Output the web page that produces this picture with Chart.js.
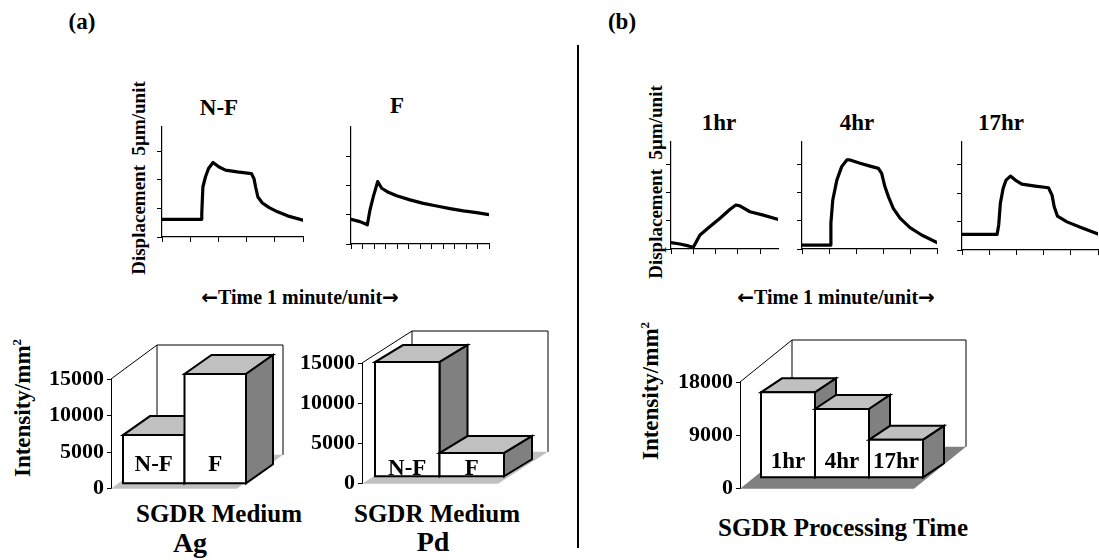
<!DOCTYPE html>
<html>
<head>
<meta charset="utf-8">
<script src="https://cdn.jsdelivr.net/npm/chart.js@4.4.1/dist/chart.umd.min.js"></script>
<style>
  body { margin: 0; width: 1099px; height: 560px; background: #fff; position: relative; overflow: hidden;
         font-family: "Liberation Serif", "Times New Roman", serif; font-weight: bold; color: #000; }
  canvas { position: absolute; }
  .t { position: absolute; white-space: nowrap; transform: translate(-50%, -50%); line-height: 1; }
  .v { transform: translate(-50%, -50%) rotate(-90deg); }
  .arr { font-family: "DejaVu Sans", sans-serif; }
  #divider { position: absolute; left: 577px; top: 45px; width: 1.5px; height: 503px; background: #000; }
</style>
</head>
<body>

<div class="t" style="left:82px; top:21px; font-size:23px;">(a)</div>
<div class="t" style="left:622px; top:21px; font-size:23px;">(b)</div>
<div id="divider"></div>

<div class="t" style="left:219px; top:107px; font-size:23px;">N-F</div>
<div class="t" style="left:397px; top:105px; font-size:23px;">F</div>
<div class="t" style="left:719px; top:122px; font-size:23px;">1hr</div>
<div class="t" style="left:857px; top:122px; font-size:23px;">4hr</div>
<div class="t" style="left:1001px; top:122px; font-size:23px;">17hr</div>

<div class="t v" style="left:138px; top:178px; font-size:19px;">Displacement&nbsp; 5µm/unit</div>
<div class="t v" style="left:655px; top:182px; font-size:19px;">Displacement&nbsp; 5µm/unit</div>

<div class="t" style="left:300px; top:297px; font-size:20px;"><span class="arr">←</span>Time 1 minute/unit<span class="arr">→</span></div>
<div class="t" style="left:836px; top:297px; font-size:20px;"><span class="arr">←</span>Time 1 minute/unit<span class="arr">→</span></div>

<div class="t v" style="left:22px; top:408px; font-size:23px;">Intensity/mm<sup style="font-size:13px;">2</sup></div>
<div class="t v" style="left:650px; top:391px; font-size:23px;">Intensity/mm<sup style="font-size:13px;">2</sup></div>

<div class="t" style="left:219px; top:513px; font-size:25px;">SGDR Medium</div>
<div class="t" style="left:190px; top:543px; font-size:28px;">Ag</div>
<div class="t" style="left:437px; top:513px; font-size:25px;">SGDR Medium</div>
<div class="t" style="left:433px; top:542px; font-size:28px;">Pd</div>
<div class="t" style="left:843px; top:527px; font-size:25px;">SGDR Processing Time</div>

<canvas id="nf"></canvas>
<canvas id="f"></canvas>
<canvas id="h1"></canvas>
<canvas id="h4"></canvas>
<canvas id="h17"></canvas>
<canvas id="ag"></canvas>
<canvas id="pd"></canvas>
<canvas id="time"></canvas>

<script>
// displacement traces: time (minutes) and displacement (5 µm units)
const nfTime = [0, 1.39, 1.41, 1.45, 1.54, 1.65, 1.81, 2.01, 2.25, 2.67, 3.17, 3.26, 3.32, 3.40, 3.56, 3.80, 4.10, 4.45, 5.00];
const nfDisp = [0.62, 0.62, 0.82, 1.75, 2.10, 2.40, 2.61, 2.46, 2.34, 2.28, 2.22, 2.05, 1.75, 1.40, 1.19, 1.03, 0.88, 0.74, 0.59];

const fTime = [0, 0.78, 1.42, 1.65, 1.94, 2.32, 2.67, 3.25, 3.97, 5.13, 6.29, 7.45, 8.61, 9.77, 10.93, 12.0];
const fDisp = [0.85, 0.77, 0.66, 1.17, 1.63, 2.15, 1.92, 1.78, 1.66, 1.52, 1.40, 1.31, 1.22, 1.14, 1.08, 1.01];

const h1Time = [0, 0.4, 0.78, 1.0, 1.3, 1.75, 2.2, 2.65, 2.91, 3.09, 3.54, 4.14, 4.78];
const h1Disp = [0.23, 0.18, 0.11, 0.06, 0.5, 0.8, 1.1, 1.42, 1.57, 1.54, 1.33, 1.21, 1.06];

const h4Time = [0, 1.04, 1.07, 1.14, 1.29, 1.47, 1.66, 1.78, 2.15, 2.52, 2.83, 2.95, 3.07, 3.2, 3.38, 3.63, 4.0, 4.43, 5.0];
const h4Disp = [0.14, 0.14, 0.92, 1.75, 2.46, 2.94, 3.18, 3.18, 3.06, 2.96, 2.88, 2.7, 2.23, 1.87, 1.45, 1.1, 0.76, 0.5, 0.23];

const h17Time = [0, 1.29, 1.35, 1.41, 1.51, 1.62, 1.78, 1.96, 2.2, 2.69, 3.18, 3.31, 3.39, 3.51, 3.86, 4.35, 5.0];
const h17Disp = [0.55, 0.55, 0.88, 1.64, 2.16, 2.46, 2.6, 2.46, 2.32, 2.25, 2.19, 1.93, 1.52, 1.19, 0.99, 0.8, 0.56];

// tick positions for the traces
const dispTicks = [0, 1, 2, 3];
const min5Ticks = [0, 1, 2, 3, 4, 5];
const min4Ticks = [0, 1, 2, 3, 4];
const min12Ticks = [0, 1, 2, 3, 4, 5, 6, 7, 8, 9, 10, 11, 12];

// intensity bars
const agLabels = ['N-F', 'F'];
const agValues = [6650, 15000];
const pdLabels = ['N-F', 'F'];
const pdValues = [14250, 2950];
const timeLabels = ['1hr', '4hr', '17hr'];
const timeValues = [14400, 11600, 6400];
const ticks15k = [0, 5000, 10000, 15000];
const ticks18k = [0, 9000, 18000];

const TL = 5; // tick mark length

function sizeCanvas(cv, left, top, w, h) {
    cv.width = w; cv.height = h;
    cv.style.left = left + 'px'; cv.style.top = top + 'px';
    cv.style.width = w + 'px'; cv.style.height = h + 'px';
}

// box = pixel position of the axes on the page
function trace(id, box, xs, ys, xMax, yMax, xTicks, yTicks) {
    const cv = document.getElementById(id);
    const pad = 8;
    sizeCanvas(cv, box.l - pad, box.t - pad, box.r - box.l + 2 * pad, box.b - box.t + 2 * pad);
    const axis = (max, tickList) => ({
        type: 'linear', min: 0, max: max,
        afterBuildTicks: s => { s.ticks = tickList.map(v => ({ value: v })); },
        grid: { display: true, drawOnChartArea: false, drawTicks: true, tickLength: TL, color: '#000', lineWidth: 1 },
        border: { display: true, color: '#000', width: 1.2 },
        ticks: { display: false }
    });
    new Chart(cv, {
        type: 'line',
        data: {
            datasets: [{
                data: xs.map((x, i) => ({ x: x, y: ys[i] })),
                borderColor: '#000', borderWidth: 3.2, pointRadius: 0, tension: 0,
                borderJoinStyle: 'round', borderCapStyle: 'round'
            }]
        },
        options: {
            responsive: false, animation: false, events: [],
            layout: { padding: { left: pad - TL, top: pad, right: pad, bottom: pad - TL } },
            plugins: { legend: { display: false }, tooltip: { enabled: false } },
            scales: { x: axis(xMax, xTicks), y: axis(yMax, yTicks) }
        }
    });
}

trace('nf', { l: 162, t: 127, r: 303, b: 237 }, nfTime, nfDisp, 5, 3.85, min5Ticks, dispTicks);
trace('f', { l: 351, t: 127, r: 489, b: 244 }, fTime, fDisp, 12, 4.03, min12Ticks, dispTicks);
trace('h1', { l: 671, t: 142, r: 778, b: 249 }, h1Time, h1Disp, 4.8, 3.82, min4Ticks, dispTicks);
trace('h4', { l: 802, t: 142, r: 937, b: 249 }, h4Time, h4Disp, 5, 3.82, min5Ticks, dispTicks);
trace('h17', { l: 962, t: 142, r: 1098, b: 250 }, h17Time, h17Disp, 5, 3.8, min5Ticks, dispTicks);

// pseudo 3-D columns drawn from the bar elements
function poly(ctx, pts, fill) {
    ctx.beginPath();
    ctx.moveTo(pts[0][0], pts[0][1]);
    for (let i = 1; i < pts.length; i++) ctx.lineTo(pts[i][0], pts[i][1]);
    ctx.closePath();
    ctx.fillStyle = fill;
    ctx.fill();
    ctx.stroke();
}

const box3d = {
    id: 'box3d',
    beforeDatasetsDraw(chart, args, o) {
        const { ctx, chartArea: a, scales: { y } } = chart;
        const top = y.getPixelForValue(y.max), bot = y.getPixelForValue(0);
        const L = a.left, R = a.right + o.extra;
        ctx.save();
        ctx.fillStyle = o.floor;
        ctx.beginPath();
        ctx.moveTo(L, bot); ctx.lineTo(R, bot); ctx.lineTo(R + o.dx, bot + o.dy); ctx.lineTo(L + o.dx, bot + o.dy);
        ctx.closePath();
        ctx.fill();
        ctx.strokeStyle = '#000'; ctx.lineWidth = 1;
        ctx.beginPath();
        ctx.moveTo(L, top); ctx.lineTo(L + o.dx, top + o.dy);
        ctx.lineTo(R + o.dx, top + o.dy); ctx.lineTo(R + o.dx, bot + o.dy);
        ctx.moveTo(L + o.dx, top + o.dy); ctx.lineTo(L + o.dx, bot + o.dy);
        ctx.stroke();
        ctx.restore();
    },
    afterDatasetsDraw(chart, args, o) {
        const ctx = chart.ctx;
        const meta = chart.getDatasetMeta(0);
        ctx.save();
        ctx.strokeStyle = '#000'; ctx.lineWidth = 2; ctx.lineJoin = 'miter';
        meta.data.forEach((el, i) => {
            const p = el.getProps(['x', 'y', 'base', 'width'], true);
            const x1 = p.x - p.width / 2 + o.ox, x2 = p.x + p.width / 2 + o.ox;
            const yt = p.y + o.oy, yb = p.base + o.oy;
            poly(ctx, [[x1, yt], [x2, yt], [x2 + o.bx, yt + o.by], [x1 + o.bx, yt + o.by]], '#c0c0c0');
            poly(ctx, [[x2, yt], [x2 + o.bx, yt + o.by], [x2 + o.bx, yb + o.by], [x2, yb]], '#808080');
            poly(ctx, [[x1, yt], [x2, yt], [x2, yb], [x1, yb]], '#ffffff');
            ctx.fillStyle = '#000';
            ctx.font = 'bold 23px "Liberation Serif"';
            ctx.textAlign = 'center';
            ctx.textBaseline = 'alphabetic';
            ctx.fillText(chart.data.labels[i], (x1 + x2) / 2, yb - o.lift);
        });
        ctx.restore();
    }
};

// frame = canvas box, axis = y-axis x, zero/top = pixel rows of 0 and max, right = last bar edge
function columns(id, frame, axis, zero, top, right, labels, values, max, tickList, look) {
    const cv = document.getElementById(id);
    sizeCanvas(cv, frame.l, frame.t, frame.w, frame.h);
    new Chart(cv, {
        type: 'bar',
        data: {
            labels: labels,
            datasets: [{ data: values, backgroundColor: 'rgba(0,0,0,0)', borderWidth: 0,
                         barPercentage: 1, categoryPercentage: 1 }]
        },
        options: {
            responsive: false, animation: false, events: [],
            layout: { padding: { left: 0, top: top - frame.t, right: frame.l + frame.w - right, bottom: frame.t + frame.h - zero } },
            plugins: { legend: { display: false }, tooltip: { enabled: false }, box3d: look },
            scales: {
                x: { display: false },
                y: {
                    min: 0, max: max,
                    afterBuildTicks: s => { s.ticks = tickList.map(v => ({ value: v })); },
                    afterFit: s => { s.width = axis - frame.l; },
                    grid: { display: true, drawOnChartArea: false, drawTicks: true, tickLength: 4, color: '#000', lineWidth: 1 },
                    border: { display: true, color: '#000', width: 1 },
                    ticks: { color: '#000', padding: 3, font: { family: '"Liberation Serif"', weight: 'bold', size: 22 },
                             callback: v => String(v) }
                }
            }
        },
        plugins: [box3d]
    });
}

columns('ag', { l: 0, t: 325, w: 300, h: 180 }, 111, 494, 379, 234, agLabels, agValues, 15000, ticks15k,
    { dx: 46, dy: -34, extra: 3, ox: 12, oy: -5, bx: 27, by: -19, floor: '#c0c0c0', lift: 12 });
columns('pd', { l: 285, t: 320, w: 275, h: 180 }, 362, 485, 363, 491, pdLabels, pdValues, 15000, ticks15k,
    { dx: 50, dy: -32, extra: 7, ox: 13, oy: -7, bx: 28, by: -17, floor: '#c0c0c0', lift: 1 });
columns('time', { l: 670, t: 325, w: 310, h: 180 }, 740, 497, 382, 902, timeLabels, timeValues, 18000, ticks18k,
    { dx: 52, dy: -42, extra: 12, ox: 21, oy: -11, bx: 21, by: -14, floor: '#808080', lift: 9 });
</script>
</body>
</html>
